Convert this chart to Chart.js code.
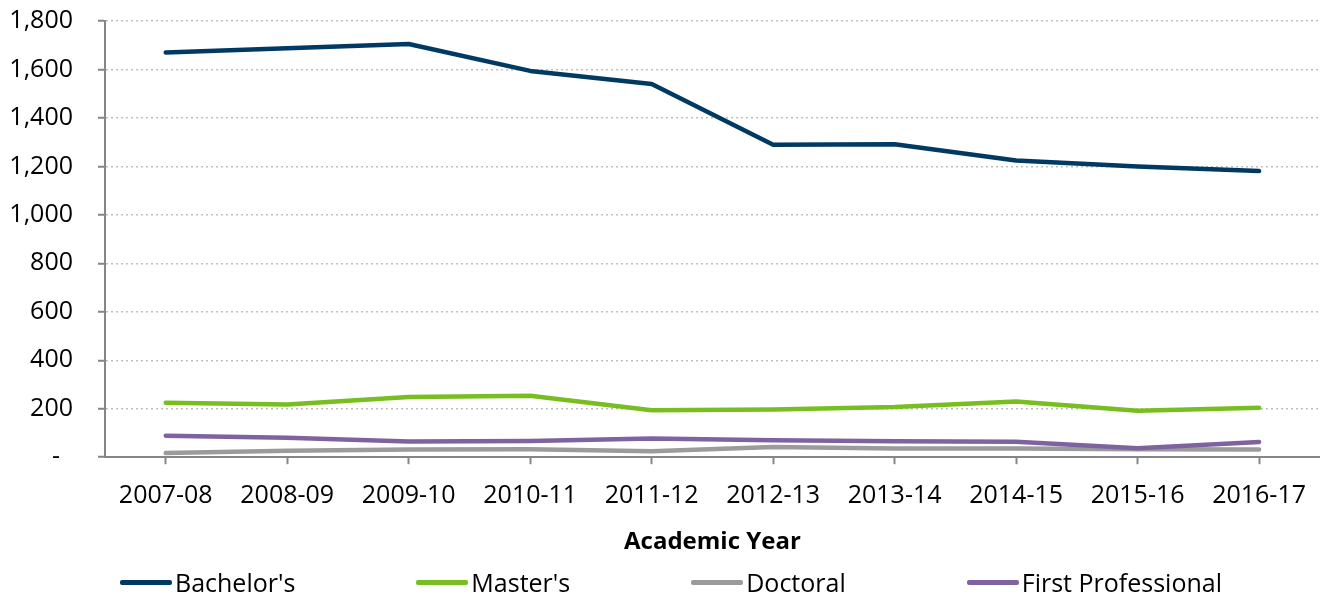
<!DOCTYPE html>
<html lang="en">
<head>
  <meta charset="UTF-8">
  <title>Degrees by Academic Year</title>
  <style>
    body { margin: 0; background: #fff; }
    .wrap { position: relative; width: 1323px; height: 598px; }
    #leyenda {
      position: absolute; left: 120px; top: 565px;
      display: flex; gap: 121px;
      font-family: "Open Sans", sans-serif; font-size: 25px; color: #000;
    }
    #leyenda .item { display: flex; align-items: center; }
    #leyenda .linea { width: 52px; height: 5px; margin-right: 3px; border-radius: 2px; }
  </style>
</head>
<body>
  <div class="wrap">
    <canvas id="grafico" width="1323" height="598"></canvas>
    <div id="leyenda"></div>
  </div>

  <script src="https://cdn.jsdelivr.net/npm/chart.js"></script>

  <script>
    const years = ["2007-08", "2008-09", "2009-10", "2010-11", "2011-12",
                   "2012-13", "2013-14", "2014-15", "2015-16", "2016-17"];
    const bachelors = [1670, 1688, 1705, 1594, 1540, 1289, 1291, 1224, 1200, 1181];
    const masters = [225, 217, 248, 254, 194, 197, 207, 230, 192, 204];
    const doctoral = [17, 27, 32, 33, 25, 42, 36, 36, 33, 32];
    const firstProfessional = [89, 80, 65, 67, 77, 70, 66, 64, 37, 63];
    const yTicks = [0, 200, 400, 600, 800, 1000, 1200, 1400, 1600, 1800];

    const fuente = "'Open Sans', sans-serif";
    const gris = "#868686";

    const series = [
      { label: "Bachelor's", data: bachelors, color: "#003a63" },
      { label: "Master's", data: masters, color: "#78be21" },
      { label: "Doctoral", data: doctoral, color: "#9b9b9b" },
      { label: "First Professional", data: firstProfessional, color: "#7f63a1" }
    ];

    const lienzo = document.getElementById("grafico");
    const grafico = new Chart(lienzo, {
      type: "line",
      data: {
        labels: years,
        datasets: series.map((s, i) => ({
          label: s.label,
          data: s.data,
          borderColor: s.color,
          backgroundColor: s.color,
          borderWidth: 4.5,
          borderCapStyle: "round",
          borderJoinStyle: "round",
          pointRadius: 0,
          tension: 0,
          order: series.length - i
        }))
      },
      options: {
        responsive: false,
        animation: false,
        layout: { padding: { top: 21, right: 0, bottom: 41, left: 0 } },
        plugins: {
          legend: { display: false },
          tooltip: { enabled: false }
        },
        scales: {
          x: {
            offset: true,
            grid: {
              offset: false,
              drawOnChartArea: false,
              drawTicks: true,
              tickLength: 7,
              tickColor: gris,
              tickWidth: 2
            },
            border: { color: gris, width: 2 },
            ticks: {
              color: "#000",
              padding: 17,
              maxRotation: 0,
              font: { family: fuente, size: 25 }
            },
            title: {
              display: true,
              text: "Academic Year",
              color: "#000",
              padding: { top: 0, bottom: 0 },
              font: { family: fuente, size: 24, weight: "bold" }
            }
          },
          y: {
            min: 0,
            max: 1800,
            afterBuildTicks: (scale) => {
              scale.ticks = yTicks.map(v => ({ value: v }));
            },
            afterFit: (scale) => {
              scale.width = 105;
              scale.paddingTop = 0;
              scale.paddingBottom = 0;
            },
            grid: {
              color: "#bfbfbf",
              lineWidth: 1.5,
              tickLength: 7,
              tickColor: gris,
              tickWidth: 2
            },
            border: { color: gris, width: 2, dash: [2, 3] },
            ticks: {
              color: "#000",
              padding: 25,
              font: { family: fuente, size: 25 },
              callback: (v) => v === 0 ? "-  " : v.toLocaleString("en-US")
            }
          }
        }
      }
    });

    const leyenda = document.getElementById("leyenda");
    grafico.data.datasets.forEach(ds => {
      const item = document.createElement("div");
      item.className = "item";
      const linea = document.createElement("span");
      linea.className = "linea";
      linea.style.background = ds.borderColor;
      const texto = document.createElement("span");
      texto.textContent = ds.label;
      item.appendChild(linea);
      item.appendChild(texto);
      leyenda.appendChild(item);
    });
  </script>
</body>
</html>
